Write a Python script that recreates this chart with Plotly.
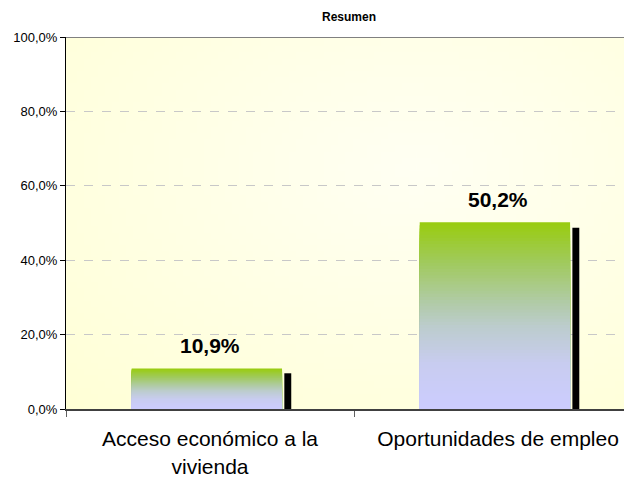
import zlib, struct, base64
import plotly.graph_objects as go

# ---- data ----
categories = ["Acceso económico a la<br>vivienda", "Oportunidades de empleo"]
main_values = [10.9, 50.2]
second_values = [9.6, 48.7]
y_ticks = [0, 20, 40, 60, 80, 100]
y_tick_labels = [f"{v:.1f}%".replace(".", ",") for v in y_ticks]

FONT = "Liberation Sans, Arial, sans-serif"

def lerp(a, b, t):
    return tuple(round(a[i] + (b[i] - a[i]) * t) for i in range(3))

def grad_color(stops, t):
    for (t0, c0), (t1, c1) in zip(stops, stops[1:]):
        if t <= t1:
            return lerp(c0, c1, (t - t0) / (t1 - t0) if t1 > t0 else 0)
    return stops[-1][1]

bar_stops = [(0.0, (153, 204, 17)), (0.2, (160, 202, 90)), (0.4, (175, 203, 160)),
             (0.55, (188, 204, 205)), (0.75, (200, 204, 240)), (1.0, (204, 204, 255))]

# ---- background gradient image ----
def make_png(w, h):
    rows = []
    cx, cy = 0.62, 0.35
    for j in range(h):
        row = bytearray([0])
        for i in range(w):
            dx = (i / (w - 1) - cx) / 0.9
            dy = (j / (h - 1) - cy) / 0.9
            d = min(1.0, (dx * dx + dy * dy) ** 0.5)
            c = lerp((255, 255, 243), (255, 255, 214), d)
            row += bytes(c)
        rows.append(bytes(row))
    raw = b"".join(rows)
    def chunk(tag, data):
        return struct.pack(">I", len(data)) + tag + data + struct.pack(">I", zlib.crc32(tag + data) & 0xffffffff)
    png = b"\x89PNG\r\n\x1a\n" + chunk(b"IHDR", struct.pack(">IIBBBBB", w, h, 8, 2, 0, 0, 0)) \
        + chunk(b"IDAT", zlib.compress(raw, 9)) + chunk(b"IEND", b"")
    return "data:image/png;base64," + base64.b64encode(png).decode()

fig = go.Figure()

N = 60
for k in range(N):
    t = k / N
    c = grad_color(bar_stops, t)
    fig.add_trace(go.Bar(
        x=categories, y=[v * (1 - t) for v in main_values],
        width=0.522, offset=-0.272,
        marker=dict(color=f"rgb{c}", line=dict(width=0)),
        showlegend=False, hoverinfo="skip"))

fig.add_trace(go.Bar(
    x=categories, y=second_values, width=0.024, offset=0.258,
    marker=dict(color="black", line=dict(width=0)), showlegend=False))

for cat, v in zip(categories, main_values):
    fig.add_annotation(x=cat, y=v, yanchor="bottom", yshift=9, showarrow=False,
                       text=f"<b>{v:.1f}%</b>".replace(".", ","),
                       font=dict(family=FONT, size=21, color="black"))

fig.add_annotation(x=0.5, xref="paper", y=1, yref="paper", yanchor="middle", yshift=20,
                   text="<b>Resumen</b>", showarrow=False, borderpad=0,
                   font=dict(family=FONT, size=12, color="black"))

fig.add_shape(type="line", xref="paper", x0=0, x1=1, yref="y", y0=100, y1=100,
              line=dict(color="#808080", width=2))

fig.add_layout_image(source=make_png(80, 60), xref="paper", yref="paper", x=0, y=1,
                     sizex=1, sizey=1, sizing="stretch", layer="below")

fig.update_layout(
    width=624, height=471,
    margin=dict(l=58, r=0, t=29, b=70),
    paper_bgcolor="white", plot_bgcolor="rgba(0,0,0,0)",
    barmode="overlay", separators=",.",
    font=dict(family=FONT, color="black"),
    xaxis=dict(range=[-0.5, 1.465], tickson="boundaries", ticks="outside", ticklen=6,
               tickcolor="#606060", showline=True, linecolor="#404040", linewidth=2,
               showgrid=False, automargin=False, ticklabelstandoff=10,
               tickfont=dict(size=21, family=FONT, color="black")),
    yaxis=dict(range=[0, 100], tickmode="array", tickvals=y_ticks, ticktext=y_tick_labels,
               ticks="outside", ticklen=5, tickcolor="black", showline=True,
               linecolor="black", linewidth=1, showgrid=True, gridcolor="#c8c8c8",
               griddash="dash", zeroline=False, automargin=False,
               tickfont=dict(size=13, family=FONT, color="black")),
)

fig.write_html("out.html")
